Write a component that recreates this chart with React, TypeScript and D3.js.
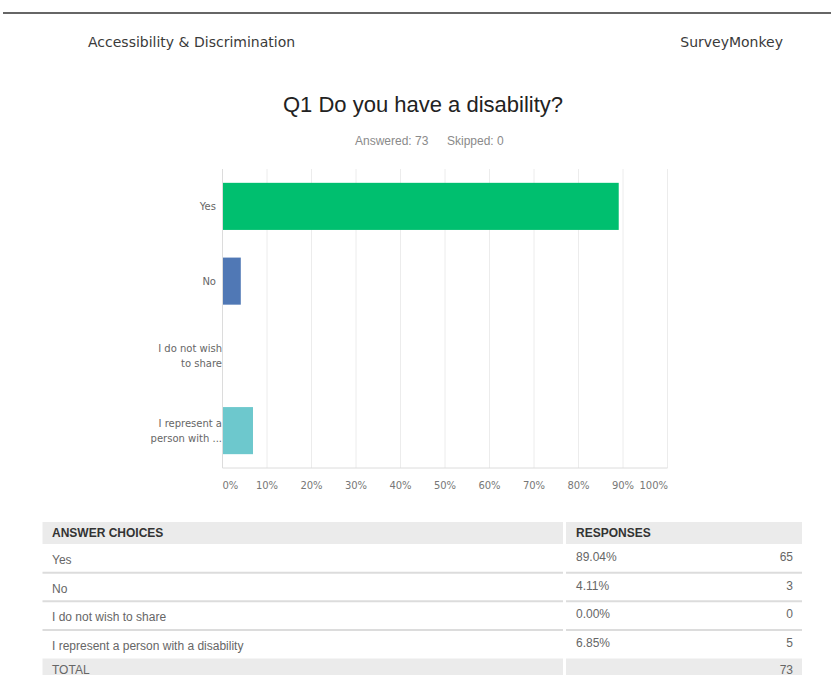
import React from "react";
import * as d3 from "d3";

const categories = ["Yes", "No", "I do not wish to share", "I represent a person with a disability"];
const axisLabels = [["Yes"], ["No"], ["I do not wish", "to share"], ["I represent a", "person with ..."]];
const percents = [89.04, 4.11, 0.0, 6.85];
const counts = [65, 3, 0, 5];
const total = 73;
const answered = 73;
const skipped = 0;
const xTicks = [0, 10, 20, 30, 40, 50, 60, 70, 80, 90, 100];

const barColors = ["#00bf6f", "#5078b5", "#9fb7d8", "#6dc8cd"];

const W = 831;
const H = 675;

export default function App() {
  const x = d3.scaleLinear().domain([0, 100]).range([222.5, 667.5]);
  const y = d3.scaleBand<string>().domain(categories).range([169, 468]).paddingInner(0.37).paddingOuter(0.185);

  const tableLeft = 42.5;
  const tableRight = 802;
  const colSplit = 565;
  const headerTop = 522;
  const headerBottom = 544;
  const rowY = d3.scaleLinear().domain([0, 4]).range([544, 658.5]);

  const tableFont = "'Liberation Sans', Arial, sans-serif";
  const dejavu = "'DejaVu Sans', sans-serif";

  return (
    <svg width={W} height={H} style={{ position: "absolute", left: 0, top: 0, background: "#fff" }}>
      <rect x={0} y={0} width={W} height={H} fill="#fff" />
      {/* page top rule */}
      <line x1={3} x2={W} y1={13} y2={13} stroke="#333" strokeWidth={1.5} />
      <text x={88} y={47} fontFamily={dejavu} fontSize={14} fill="#3a3a3a">
        Accessibility &amp; Discrimination
      </text>
      <text x={783} y={47} textAnchor="end" fontFamily={dejavu} fontSize={14} fill="#3a3a3a">
        SurveyMonkey
      </text>

      {/* title */}
      <text x={423} y={111.5} textAnchor="middle" fontFamily={tableFont} fontSize={22} fill="#222">
        Q1 Do you have a disability?
      </text>
      <text x={355} y={145} fontFamily={tableFont} fontSize={12} fill="#8a8a8a">
        {`Answered: ${answered}`}
      </text>
      <text x={447} y={145} fontFamily={tableFont} fontSize={12} fill="#8a8a8a">
        {`Skipped: ${skipped}`}
      </text>

      {/* gridlines */}
      {xTicks.slice(1).map((t) => (
        <line key={t} x1={x(t)} x2={x(t)} y1={169} y2={468} stroke="#ececec" strokeWidth={1} />
      ))}
      {/* bars */}
      {categories.map((c, i) => (
        <rect
          key={c}
          x={x(0)}
          y={y(c)}
          width={Math.max(0, x(percents[i]) - x(0))}
          height={y.bandwidth()}
          fill={barColors[i]}
        />
      ))}
      {/* axes */}
      <line x1={x(0)} x2={x(0)} y1={169} y2={468} stroke="#dcdcdc" strokeWidth={1} />
      <line x1={x(0)} x2={x(100)} y1={468} y2={468} stroke="#dcdcdc" strokeWidth={1} />

      {/* y labels */}
      {categories.map((c, i) => {
        const cy = (y(c) as number) + y.bandwidth() / 2;
        const lines = axisLabels[i];
        const lh = 15;
        const start = cy - ((lines.length - 1) * lh) / 2;
        const ax = lines.length === 1 ? 216 : 222;
        return (
          <text key={c} textAnchor="end" fontFamily={dejavu} fontSize={10} fill="#666">
            {lines.map((ln, j) => (
              <tspan key={j} x={ax} y={start + j * lh} dy="0.35em">
                {ln}
              </tspan>
            ))}
          </text>
        );
      })}

      {/* x tick labels */}
      {xTicks.map((t, i) => (
        <text
          key={t}
          x={i === 0 ? x(t) : i === xTicks.length - 1 ? x(t) + 0.5 : x(t)}
          y={488.5}
          textAnchor={i === 0 ? "start" : i === xTicks.length - 1 ? "end" : "middle"}
          fontFamily={dejavu}
          fontSize={10}
          fill="#777"
        >
          {`${t}%`}
        </text>
      ))}

      {/* table header */}
      <rect x={tableLeft} y={headerTop} width={colSplit - 2 - tableLeft} height={headerBottom - headerTop} fill="#ebebeb" />
      <rect x={colSplit + 1} y={headerTop} width={tableRight - colSplit - 1} height={headerBottom - headerTop} fill="#ebebeb" />
      <text x={52} y={537} fontFamily={tableFont} fontSize={12} fontWeight="bold" fill="#333">
        ANSWER CHOICES
      </text>
      <text x={576} y={537} fontFamily={tableFont} fontSize={12} fontWeight="bold" fill="#333">
        RESPONSES
      </text>

      {/* rows */}
      {categories.map((c, i) => {
        const top = rowY(i);
        const bottom = rowY(i + 1);
        return (
          <g key={c}>
            <text x={52} y={top + 20} fontFamily={tableFont} fontSize={12} fill="#666">
              {c}
            </text>
            <text x={576} y={top + 17} fontFamily={tableFont} fontSize={12} fill="#666">
              {`${percents[i].toFixed(2)}%`}
            </text>
            <text x={793} y={top + 17} textAnchor="end" fontFamily={tableFont} fontSize={12} fill="#666">
              {counts[i]}
            </text>
            {i < categories.length - 1 && (
              <>
                <line x1={tableLeft} x2={colSplit - 2} y1={bottom} y2={bottom} stroke="#dcdcdc" strokeWidth={2} />
                <line x1={colSplit + 1} x2={tableRight} y1={bottom} y2={bottom} stroke="#dcdcdc" strokeWidth={2} />
              </>
            )}
          </g>
        );
      })}

      {/* total row */}
      <rect x={tableLeft} y={rowY(4)} width={colSplit - 2 - tableLeft} height={30} fill="#ebebeb" />
      <rect x={colSplit + 1} y={rowY(4)} width={tableRight - colSplit - 1} height={30} fill="#ebebeb" />
      <text x={52} y={673.5} fontFamily={tableFont} fontSize={12} fill="#666">
        TOTAL
      </text>
      <text x={793} y={673.5} textAnchor="end" fontFamily={tableFont} fontSize={12} fill="#666">
        {total}
      </text>
    </svg>
  );
}
